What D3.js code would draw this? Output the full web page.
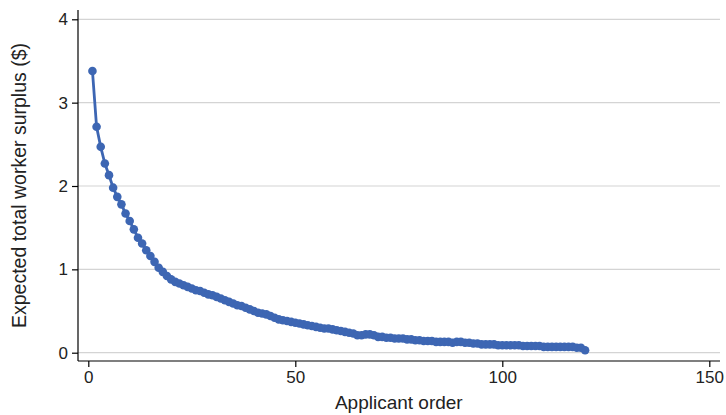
<!DOCTYPE html>
<html>
<head>
<meta charset="utf-8">
<script src="https://cdn.jsdelivr.net/npm/d3@7"></script>
<style>
  body { margin: 0; background: #fff; }
  text { font-family: "Liberation Sans", Arial, sans-serif; fill: #222; }
</style>
</head>
<body>
<div class="canvas"></div>
<script>
// applicant order 1..120 and expected surplus
const surplus = [
  3.38, 2.71, 2.47, 2.27, 2.13, 1.98, 1.87, 1.78, 1.67, 1.58,
  1.48, 1.38, 1.31, 1.23, 1.16, 1.09, 1.02, 0.97, 0.92, 0.88,
  0.85, 0.83, 0.81, 0.79, 0.77, 0.75, 0.74, 0.72, 0.70, 0.69,
  0.67, 0.65, 0.63, 0.61, 0.59, 0.57, 0.56, 0.54, 0.52, 0.50,
  0.48, 0.47, 0.46, 0.44, 0.42, 0.40, 0.39, 0.38, 0.37, 0.36,
  0.35, 0.34, 0.33, 0.32, 0.31, 0.30, 0.29, 0.29, 0.28, 0.27,
  0.26, 0.25, 0.24, 0.23, 0.21, 0.21, 0.22, 0.22, 0.21, 0.19,
  0.19, 0.18, 0.18, 0.17, 0.17, 0.17, 0.16, 0.16, 0.15, 0.15,
  0.14, 0.14, 0.14, 0.13, 0.13, 0.13, 0.13, 0.12, 0.13, 0.13,
  0.12, 0.12, 0.11, 0.11, 0.10, 0.10, 0.10, 0.10, 0.09, 0.09,
  0.09, 0.09, 0.09, 0.09, 0.08, 0.08, 0.08, 0.08, 0.08, 0.07,
  0.07, 0.07, 0.07, 0.07, 0.07, 0.07, 0.07, 0.06, 0.06, 0.03
];
const order = surplus.map((d, i) => i + 1);
const xTicks = [0, 50, 100, 150];
const yTicks = [0, 1, 2, 3, 4];

const data = order.map((o, i) => ({ order: o, value: surplus[i] }));

const dims = { width: 726, height: 415 };
const frame = { left: 78, right: 720, top: 10, bottom: 361 };
const colour = '#3d66b3';

const svg = d3.select('.canvas')
    .append('svg')
    .attr('width', dims.width)
    .attr('height', dims.height);

const x = d3.scaleLinear().domain([0, 150]).range([88.3, 709.3]);
const y = d3.scaleLinear().domain([0, 4]).range([352.7, 19.3]);

// gridlines
svg.append('g')
    .selectAll('line')
    .data(yTicks)
    .enter().append('line')
        .attr('x1', frame.left)
        .attr('x2', frame.right)
        .attr('y1', d => y(d))
        .attr('y2', d => y(d))
        .attr('stroke', '#d4d4d4')
        .attr('stroke-width', 1.2);

// axes
const yAxis = d3.axisLeft(y).tickValues(yTicks).tickSize(6).tickPadding(4).tickFormat(d3.format('d'));
const xAxis = d3.axisBottom(x).tickValues(xTicks).tickSize(6).tickPadding(4).tickFormat(d3.format('d'));

const gy = svg.append('g')
    .attr('transform', `translate(${frame.left},0)`)
    .call(yAxis);
gy.select('.domain').remove();
gy.append('line')
    .attr('y1', frame.top).attr('y2', frame.bottom)
    .attr('stroke', '#000').attr('stroke-width', 1.2);

const gx = svg.append('g')
    .attr('transform', `translate(0,${frame.bottom})`)
    .call(xAxis);
gx.select('.domain').remove();
gx.append('line')
    .attr('x1', frame.left).attr('x2', frame.right)
    .attr('stroke', '#000').attr('stroke-width', 1.2);

svg.selectAll('.tick line').attr('stroke', '#000').attr('stroke-width', 1.2);
svg.selectAll('.tick text')
    .style('font-family', '"Liberation Sans", Arial, sans-serif')
    .style('font-size', '17px')
    .attr('fill', '#222');

// axis titles
svg.append('text')
    .attr('x', (x(0) + x(150)) / 2)
    .attr('y', 409)
    .attr('text-anchor', 'middle')
    .style('font-size', '19px')
    .text('Applicant order');

svg.append('text')
    .attr('transform', `translate(26, ${(frame.top + frame.bottom) / 2}) rotate(-90)`)
    .attr('text-anchor', 'middle')
    .style('font-size', '19.5px')
    .text('Expected total worker surplus ($)');

// line + markers
const line = d3.line()
    .x(d => x(d.order))
    .y(d => y(d.value));

svg.append('path')
    .datum(data)
    .attr('d', line)
    .attr('fill', 'none')
    .attr('stroke', colour)
    .attr('stroke-width', 2.8);

svg.append('g')
    .selectAll('circle')
    .data(data)
    .enter().append('circle')
        .attr('cx', d => x(d.order))
        .attr('cy', d => y(d.value))
        .attr('r', 4.3)
        .attr('fill', colour);
</script>
</body>
</html>
